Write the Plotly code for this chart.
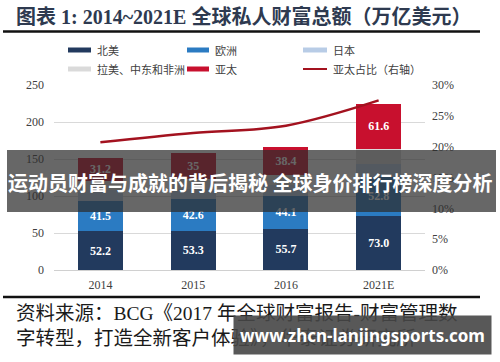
import plotly.graph_objects as go

# ---- data ----
years = ["2014", "2015", "2016", "2021E"]
north_america = [52.2, 53.3, 55.7, 73.0]
europe = [41.5, 42.6, 44.1, 52.8]
japan = [14.0, 14.2, 14.5, 17.0]
latam_mea = [13.1, 13.4, 13.8, 20.6]
asia_pacific = [31.2, 35, 38.4, 61.6]
ap_share = [0.207, 0.222, 0.234, 0.275]

series_names = ["北美", "欧洲", "日本", "拉美、中东和非洲", "亚太", "亚太占比（右轴）"]
left_ticks = [0, 50, 100, 150, 200, 250]
right_ticks = [0, 0.05, 0.10, 0.15, 0.20, 0.25, 0.30]

title_text = "图表 1: 2014~2021E 全球私人财富总额（万亿美元）"
band_text = "运动员财富与成就的背后揭秘 全球身价排行榜深度分析"
source_line1 = "资料来源：BCG《2017 年全球财富报告-财富管理数"
source_line2 = "字转型，打造全新客户体验》，华泰证券研究所"
watermark = "www.zhcn-lanjingsports.com"

# ---- styles ----
colors = ["#223A5E", "#2B7BC2", "#B8CCE6", "#DADADA", "#C8102E", "#A3121F"]
SERIF = "Liberation Serif, Noto Sans CJK SC, serif"
CJK = "Noto Sans CJK SC, sans-serif"

W, H = 500, 362
L, R, T, B = 54, 75, 85, 92
PW, PH = W - L - R, H - T - B


def xp(px):
    return (px - L) / PW


def yp(py):
    return (H - B - py) / PH


fig = go.Figure()
stack = [north_america, europe, japan, latam_mea, asia_pacific]
labelled = [True, True, False, False, True]
for vals, name, col, lab in zip(stack, series_names[:5], colors[:5], labelled):
    fig.add_trace(go.Bar(
        x=years, y=vals, name=name, marker=dict(color=col, line=dict(width=0)),
        text=[str(v) for v in vals] if lab else None,
        textposition="inside" if lab else "none",
        insidetextanchor="middle", textangle=0,
        textfont=dict(family=SERIF, size=12, color="white", weight="bold"),
        showlegend=False,
    ))

fig.add_trace(go.Scatter(
    x=years, y=ap_share, name=series_names[5], yaxis="y2", mode="lines",
    line=dict(color=colors[5], width=2.5, shape="spline"), showlegend=False,
))

shapes = []
annotations = []

# title + rule
annotations.append(dict(text=title_text, x=xp(14), y=yp(16), xref="paper", yref="paper",
                        xanchor="left", yanchor="middle", showarrow=False,
                        font=dict(family=SERIF, size=20, color="#2E3A50", weight="bold")))
shapes.append(dict(type="line", xref="paper", yref="paper", x0=xp(3), x1=xp(480),
                   y0=yp(31.5), y1=yp(31.5), line=dict(color="#111111", width=2.5)))

# manual legend
leg = [
    (0, 68, 91, 95, 50, "bar"), (1, 187, 209, 213, 50, "bar"), (2, 303, 327, 331, 50, "bar"),
    (3, 68, 91, 95, 69, "bar"), (4, 187, 209, 213, 69, "bar"), (5, 303, 327, 331, 69, "line"),
]
for idx, sx0, sx1, tx, cy, kind in leg:
    if kind == "bar":
        shapes.append(dict(type="rect", xref="paper", yref="paper", x0=xp(sx0), x1=xp(sx1),
                           y0=yp(cy - 2.5), y1=yp(cy + 2.5), fillcolor=colors[idx],
                           line=dict(width=0)))
    else:
        shapes.append(dict(type="line", xref="paper", yref="paper", x0=xp(sx0), x1=xp(sx1),
                           y0=yp(cy), y1=yp(cy), line=dict(color=colors[idx], width=2)))
    annotations.append(dict(text=series_names[idx], x=xp(tx), y=yp(cy), xref="paper", yref="paper",
                            xanchor="left", yanchor="middle", showarrow=False,
                            font=dict(family=CJK, size=11, color="#404040")))

# dark overlay band
shapes.append(dict(type="rect", xref="paper", yref="paper", x0=xp(7), x1=xp(496),
                   y0=yp(212), y1=yp(150), fillcolor="rgba(45,45,45,0.72)",
                   line=dict(width=0), layer="above"))
annotations.append(dict(text=band_text, x=xp(250), y=yp(182), xref="paper", yref="paper",
                        xanchor="center", yanchor="middle", showarrow=False,
                        font=dict(family=CJK, size=20, color="white", weight="bold")))

# footer rule + source
shapes.append(dict(type="line", xref="paper", yref="paper", x0=xp(3), x1=xp(480),
                   y0=yp(297), y1=yp(297), line=dict(color="#111111", width=2.5)))
annotations.append(dict(text=source_line1, x=xp(14), y=yp(313), xref="paper", yref="paper",
                        xanchor="left", yanchor="middle", showarrow=False,
                        font=dict(family=SERIF, size=19.5, color="#1a1a1a")))
annotations.append(dict(text=source_line2, x=xp(14), y=yp(338), xref="paper", yref="paper",
                        xanchor="left", yanchor="middle", showarrow=False,
                        font=dict(family=SERIF, size=19.5, color="#1a1a1a")))
# watermark box (drawn after footer text so it covers it)
annotations.append(dict(text=watermark, x=xp(233), y=yp(315), xref="paper", yref="paper",
                        xanchor="left", yanchor="top", showarrow=False,
                        width=257, height=38, borderpad=0, align="center", valign="middle",
                        bgcolor="rgba(70,70,70,0.9)",
                        font=dict(family="Noto Sans, Open Sans, sans-serif", size=17,
                                  color="white", weight="bold")))

fig.update_layout(
    width=W, height=H, margin=dict(l=L, r=R, t=T, b=B, pad=0),
    paper_bgcolor="white", plot_bgcolor="white",
    barmode="stack", bargap=0.515, showlegend=False,
    xaxis=dict(type="category", showgrid=False, showline=False, ticks="",
               ticklabelstandoff=6,
               tickfont=dict(family=SERIF, size=12, color="#404040")),
    yaxis=dict(range=[0, 250], tickvals=left_ticks, showgrid=True, gridcolor="#D9D9D9",
               gridwidth=1, zeroline=True, zerolinecolor="#D0D0D0", zerolinewidth=1,
               showline=False, ticks="", ticklabelstandoff=9,
               tickfont=dict(family=SERIF, size=12, color="#404040")),
    yaxis2=dict(range=[0, 0.30], tickvals=right_ticks, tickformat=".0%", overlaying="y",
                side="right", showgrid=False, zeroline=False, showline=False, ticks="",
                ticklabelstandoff=6,
                tickfont=dict(family=SERIF, size=12, color="#404040")),
    shapes=shapes, annotations=annotations,
)

fig.write_html("out.html", config={"displayModeBar": False},
               post_script="document.body.style.margin='0';")
